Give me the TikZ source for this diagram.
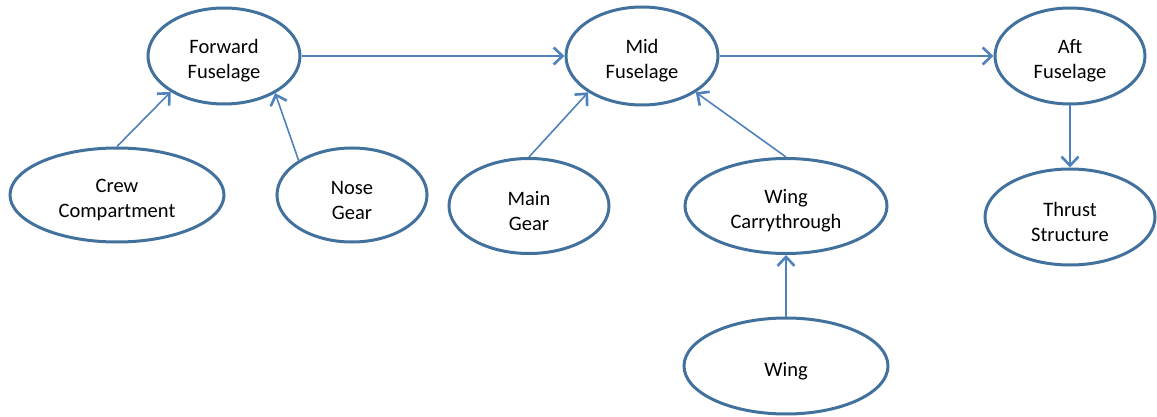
\documentclass[tikz,border=0pt]{standalone}
\usepackage{fontspec}
\setmainfont{Carlito}
\usetikzlibrary{shapes.geometric,arrows.meta}
\definecolor{ellcol}{RGB}{65,113,156}
\definecolor{arrcol}{RGB}{79,129,189}
\newcommand\upstr{\rule{0pt}{24pt}}
\begin{document}
\begin{tikzpicture}[x=1pt,y=-1pt,
  oval/.style={ellipse,draw=ellcol,line width=3pt,inner sep=0pt,align=center,
    font=\fontsize{20.5}{25}\selectfont,text=black},
  link/.style={draw=arrcol,line width=1.6pt,
    -{Straight Barb[length=9pt,width=17pt,line width=2.6pt]}}]
\useasboundingbox (0,0) rectangle (1157,417);
\node[oval,minimum width=152pt,minimum height=96pt] (fwd) at (224,56) {\upstr Forward\\Fuselage};
\node[oval,minimum width=152pt,minimum height=98pt] (mid) at (642,56) {\upstr Mid\\Fuselage};
\node[oval,minimum width=150pt,minimum height=96pt] (aft) at (1070,56) {\upstr Aft\\Fuselage};
\node[oval,minimum width=214pt,minimum height=94pt] (crew) at (117,195) {\upstr Crew\\Compartment};
\node[oval,minimum width=150pt,minimum height=94pt] (nose) at (352,195) {\upstr Nose\\Gear};
\node[oval,minimum width=160pt,minimum height=95pt] (main) at (529,206) {\upstr Main\\Gear};
\node[oval,minimum width=202pt,minimum height=95pt] (wc) at (786,206) {\upstr Wing\\Carrythrough};
\node[oval,minimum width=170pt,minimum height=96pt] (thr) at (1070,217) {\upstr Thrust\\Structure};
\node[oval,minimum width=204pt,minimum height=96pt] (wing) at (786,366) {\upstr Wing};
\draw[link] (fwd.east) -- (mid.west);
\draw[link] (mid.east) -- (aft.west);
\draw[link] (crew.north) -- (fwd.214);
\draw[link] (nose.147) -- (fwd.324);
\draw[link] (main.north) -- (mid.214);
\draw[link] (wc.north) -- (mid.326);
\draw[link] (aft.south) -- (thr.north);
\draw[link] (wing.north) -- (wc.south);
\end{tikzpicture}
\end{document}
